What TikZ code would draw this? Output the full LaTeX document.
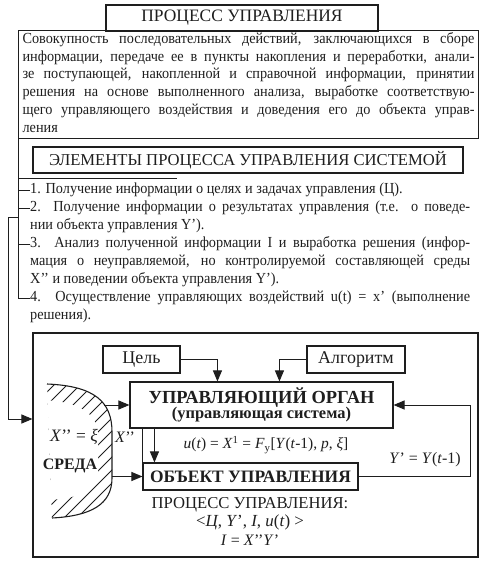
\documentclass[tikz,border=0pt]{standalone}
\usepackage{fontspec}
\setmainfont{Liberation Serif}
\newfontfamily\bodyfont{Liberation Serif}[FakeStretch=0.93]
\usetikzlibrary{arrows.meta,calc}
\definecolor{ink}{HTML}{1E1E1E}
\newcommand{\bodysize}{\bodyfont\fontsize{15.4}{18}\selectfont}
\begin{document}
\begin{tikzpicture}[x=1bp,y=-1bp,
  box/.style={draw=ink, line width=1.1bp, inner sep=0pt, anchor=center, text=ink},
  arr/.style={draw=ink, line width=1bp, -{Triangle[length=11bp,width=9bp]}},
  ln/.style={draw=ink, line width=1bp},
  body/.style={text=ink, inner sep=0pt},
  lab/.style={font=\fontsize{18}{20}\selectfont, text=ink, inner sep=0pt}]
\useasboundingbox (0,0) rectangle (488,563);

% --- top text box and title
\node[box, anchor=north west, inner xsep=4bp] (txt) at (18,30) {\parbox{452bp}{\bodysize
\makebox[\linewidth][s]{Совокупность последовательных действий, заключающихся в сборе\strut}\\
\makebox[\linewidth][s]{информации, передаче ее в пункты накопления и переработки, анали-\strut}\\
\makebox[\linewidth][s]{зе поступающей, накопленной и справочной информации, принятии\strut}\\
\makebox[\linewidth][s]{решения на основе выполненного анализа, выработке соответствую-\strut}\\
\makebox[\linewidth][s]{щего управляющего воздействия и доведения его до объекта управ-\strut}\\
ления\strut}};
\node[box, fill=white, font=\fontsize{17.5}{20}\selectfont, minimum width=272bp, minimum height=26bp] (title) at (242,18) {ПРОЦЕСС УПРАВЛЕНИЯ};

% --- elements
\node[box, font=\fontsize{16.7}{20}\selectfont, minimum width=430bp, minimum height=26bp] (elem) at (248,160) {ЭЛЕМЕНТЫ ПРОЦЕССА УПРАВЛЕНИЯ СИСТЕМОЙ};

\node[body, anchor=north west] (i1) at (30,181) {\parbox{440bp}{\bodysize
1. Получение информации о целях и задачах управления (Ц).\strut}};
\node[body, anchor=north west] (i2) at (30,199) {\parbox{440bp}{\bodysize
\makebox[\linewidth][s]{2. Получение информации о результатах управления (т.е. о поведе-\strut}\\
нии объекта управления Y’).\strut}};
\node[body, anchor=north west] (i3) at (30,235) {\parbox{440bp}{\bodysize
\makebox[\linewidth][s]{3. Анализ полученной информации I и выработка решения (инфор-\strut}\\
\makebox[\linewidth][s]{мация о неуправляемой, но контролируемой составляющей среды\strut}\\
X’’ и поведении объекта управления Y’).\strut}};
\node[body, anchor=north west] (i4) at (30,289) {\parbox{440bp}{\bodysize
\makebox[\linewidth][s]{4. Осуществление управляющих воздействий u(t) = x’ (выполнение\strut}\\
решения).\strut}};

\coordinate (u1) at (177,178);
\draw[ln] (txt.south west |- u1) -- (u1);
\draw[ln] (txt.south west) |- ([yshift=-9bp]i4.north west);
\draw[ln] ([yshift=-9bp]i1.north west) -- ++(-12,0);
\draw[ln] ([yshift=-9bp]i2.north west) -- ++(-12,0);
\draw[ln] ([yshift=-9bp]i3.north west) -- ++(-12,0);

% --- environment (СРЕДА) hatching
\def\outerD{(47,384) .. controls (95,386) and (112,402) .. (112,432) -- (112,478) .. controls (112,505) and (90,516) .. (52,518)}
\begin{scope}
  \clip \outerD -- cycle;
  \foreach \k in {-140,-127,...,130} {
    \draw[ink, line width=0.8bp] (\k,540) -- ++(190,-190);
  }
  \fill[white] (44,400) .. controls (80,402) and (98,414) .. (98,436) -- (98,472) .. controls (98,490) and (84,497) .. (50,500) -- cycle;
\end{scope}
\draw[ink, line width=1.1bp] \outerD;

% --- main frame
\node[box, minimum width=445bp, minimum height=224bp] (main) at (255.5,445) {};
\coordinate (ob) at (18,217);
\coordinate (obl) at (8,217);
\draw[arr] (ob) -- (obl) |- ([yshift=26bp]main.west);

\node[box, lab, minimum width=77bp, minimum height=27bp] (cel) at (141.5,359.5) {Цель};
\node[box, lab, minimum width=98bp, minimum height=27bp] (alg) at (356,359.5) {Алгоритм};
\node[box, minimum width=263bp, minimum height=46bp, align=center] (upr) at (261.5,405)
  {{\fontsize{18.5}{20}\selectfont\bfseries УПРАВЛЯЮЩИЙ ОРГАН}\\[-1bp]{\fontsize{16.5}{19}\selectfont\bfseries (управляющая система)}};
\node[box, font=\fontsize{17.5}{20}\selectfont\bfseries, minimum width=215bp, minimum height=27bp] (obj) at (250.5,476.5) {ОБЪЕКТ УПРАВЛЕНИЯ};

\draw[arr] (cel.east) -| ([xshift=88bp]upr.north west);
\draw[arr] (alg.west) -| ([xshift=150bp]upr.north west);
\coordinate (fb) at (470,476.5);
\draw[arr] (obj.east) -- (fb) |- (upr.east);
\draw[arr] ([xshift=25bp]upr.south west) -- ([xshift=25bp]upr.south west |- obj.north);
\draw[ln] (obj.north west) -- (obj.north west |- upr.south);

\coordinate (s1) at (104,405);
\coordinate (s2) at (112,476.5);
\draw[arr] (s1) -- (upr.west);
\draw[arr] (s2) -- (obj.west);

% --- labels
\node[lab, font=\fontsize{15.5}{18}\selectfont] (f1) at (266,445) {\textit{u}(\textit{t}) = \textit{X}\textsuperscript{1} = \textit{F}\textsubscript{y}[\textit{Y}(\textit{t}-1), \textit{p}, \textit{ξ}]};
\node[lab, font=\fontsize{16}{18}\selectfont] (f2) at (425,460) {\textit{Y}’ = \textit{Y}(\textit{t}-1)};
\node[lab, font=\fontsize{17.5}{20}\selectfont] (xk) at (74,437) {\textit{X}’’ = \textit{ξ}};
\node[lab, font=\fontsize{16}{18}\selectfont] (xk2) at (125,437) {\textit{X}’’};
\node[lab, font=\fontsize{16}{18}\selectfont\bfseries] (sr) at (70,466) {СРЕДА};
\node[lab, font=\fontsize{16.7}{18}\selectfont] (p1) at (250,505) {ПРОЦЕСС УПРАВЛЕНИЯ:};
\node[lab, font=\fontsize{17}{18}\selectfont] (p2) at (250,522) {<\textit{Ц}, \textit{Y}’, \textit{I}, \textit{u}(\textit{t}) >};
\node[lab, font=\fontsize{16}{18}\selectfont] (p3) at (250,540) {\textit{I} = \textit{X}’’\textit{Y}’};
\end{tikzpicture}
\end{document}
